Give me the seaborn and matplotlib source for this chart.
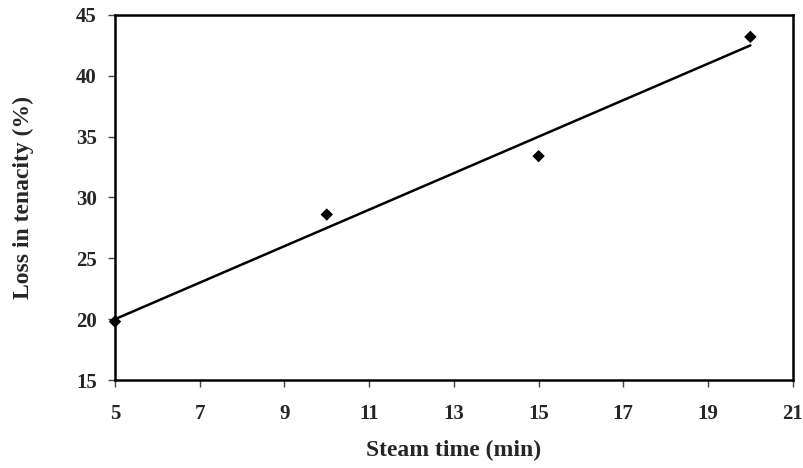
import matplotlib
matplotlib.use("Agg")
import matplotlib.pyplot as plt
import seaborn as sns
import pandas as pd

steam_time = [5, 10, 15, 20]
loss_tenacity = [19.8, 28.6, 33.4, 43.2]
x_ticks = [5, 7, 9, 11, 13, 15, 17, 19, 21]
y_ticks = [15, 20, 25, 30, 35, 40, 45]

df = pd.DataFrame({"Steam time (min)": steam_time, "Loss in tenacity (%)": loss_tenacity})

sns.set_style("white")
plt.rcParams['font.family'] = ['Liberation Serif', 'DejaVu Serif']
plt.rcParams['font.weight'] = 'bold'

fig = plt.figure(figsize=(8.04, 4.68), dpi=100)
ax = fig.add_axes([0.143, 0.188, 0.843, 0.780])

sns.regplot(data=df, x="Steam time (min)", y="Loss in tenacity (%)", ax=ax, ci=None,
            marker="D", color="black",
            scatter_kws={"s": 40, "edgecolors": "none", "alpha": 1, "clip_on": False, "zorder": 3},
            line_kws={"linewidth": 1.8})

ax.set_xlim(5, 21)
ax.set_ylim(15, 45)
ax.set_xticks(x_ticks)
ax.set_yticks(y_ticks)
ax.tick_params(axis='both', direction='out', length=5, width=1, color='#444444',
               labelsize=15, bottom=True, left=True)
ax.tick_params(axis='x', pad=12)
ax.tick_params(axis='y', pad=8)
for lab in ax.get_xticklabels() + ax.get_yticklabels():
    lab.set_fontweight('bold')
for s in ax.spines.values():
    s.set_color('black')
    s.set_linewidth(1.8)
ax.set_xlabel("Steam time (min)", fontsize=17, fontweight='bold', labelpad=12)
ax.set_ylabel("Loss in tenacity (%)", fontsize=17, fontweight='bold', labelpad=30)

fig.savefig("out.png", dpi=100)
